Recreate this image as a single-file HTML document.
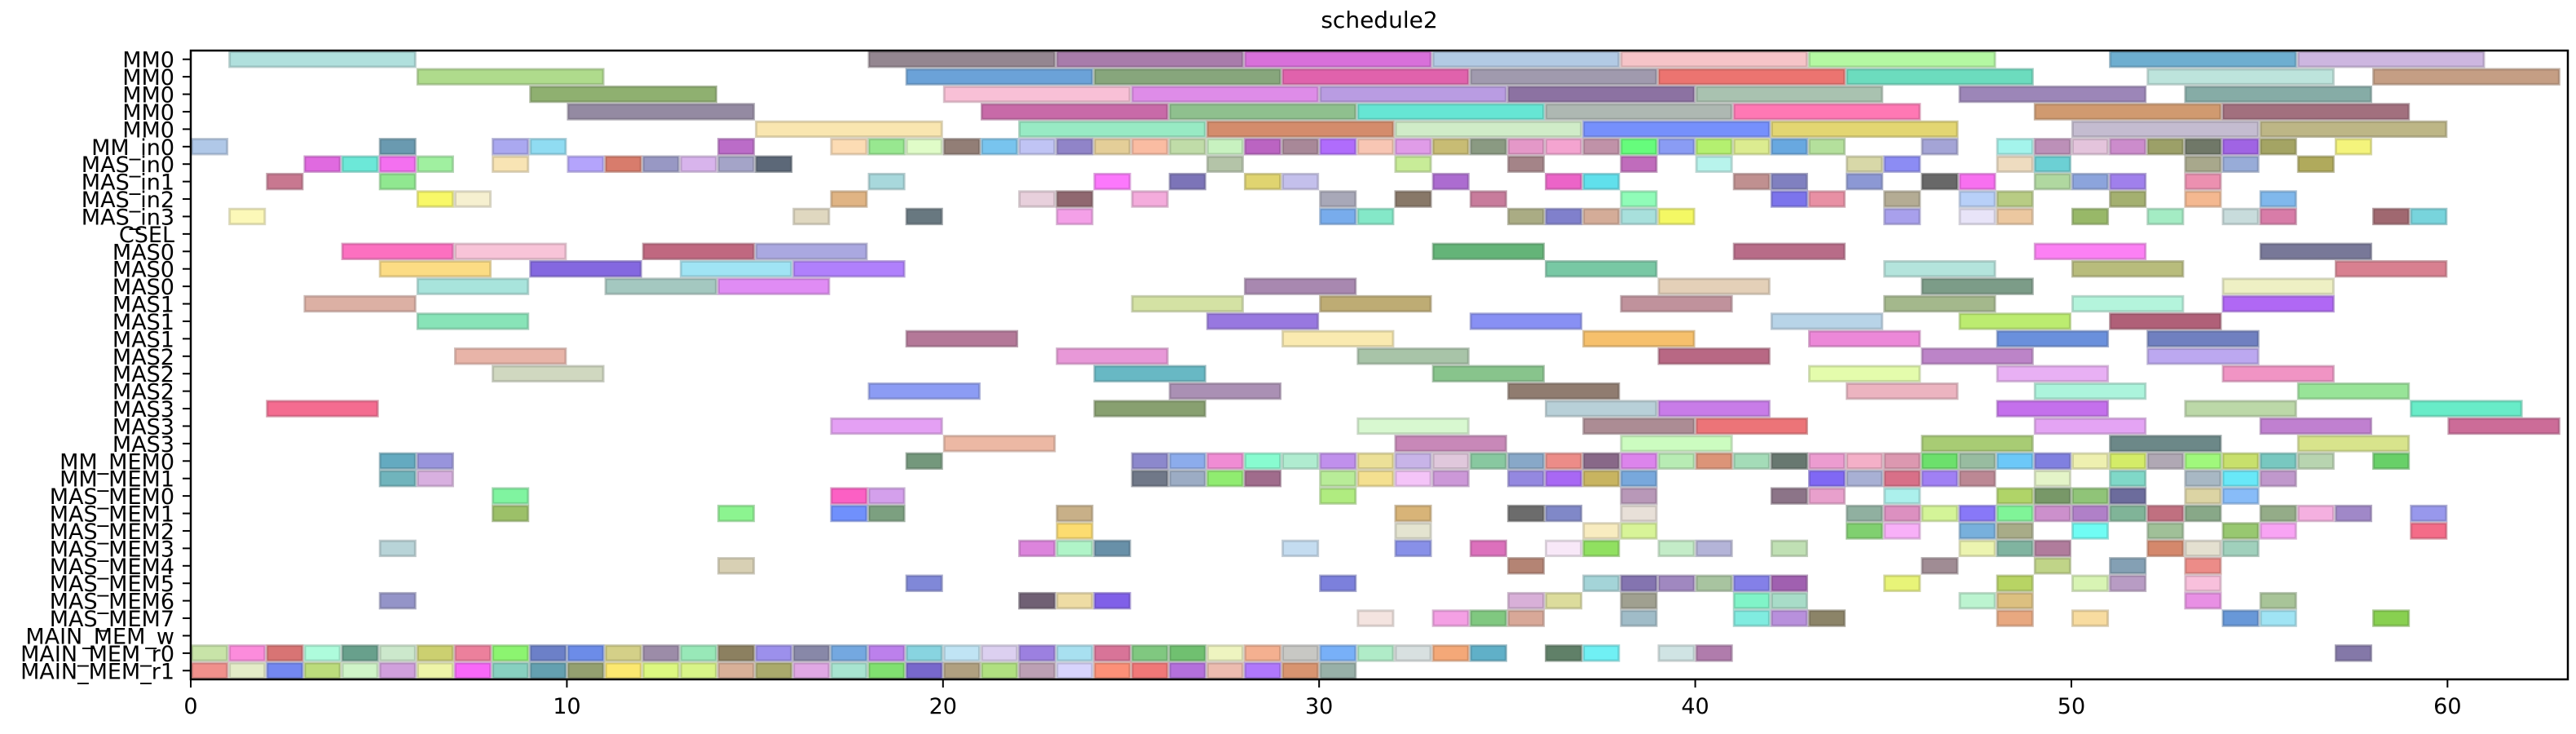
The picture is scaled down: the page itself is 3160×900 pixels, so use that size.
<!DOCTYPE html>
<html><head><meta charset="utf-8"><title>schedule2</title>
<style>
html,body{margin:0;padding:0;background:#fff;}
svg{display:block;font-family:"DejaVu Sans","Liberation Sans",sans-serif;}
</style></head>
<body>
<svg id="chart" width="3160" height="900" viewBox="0 0 3160 900" xmlns="http://www.w3.org/2000/svg">
<text x="1692" y="34" font-size="28" text-anchor="middle">schedule2</text>
<g id="bars"></g>
<g id="yaxis"></g>
<g id="xaxis"></g>
<rect x="234" y="62" width="2916" height="771" fill="none" stroke="#000" stroke-width="2.5"/>
</svg>
<script>
const rowLabels = ["MM0","MM0","MM0","MM0","MM0","MM_in0","MAS_in0","MAS_in1","MAS_in2","MAS_in3","CSEL",
"MAS0","MAS0","MAS0","MAS1","MAS1","MAS1","MAS2","MAS2","MAS2","MAS3","MAS3","MAS3",
"MM_MEM0","MM_MEM1","MAS_MEM0","MAS_MEM1","MAS_MEM2","MAS_MEM3","MAS_MEM4","MAS_MEM5","MAS_MEM6","MAS_MEM7",
"MAIN_MEM_w","MAIN_MEM_r0","MAIN_MEM_r1"];
const xTicks = [0,10,20,30,40,50,60];
const xMax = 63.2;
// each bar: [start, duration, color]
const rowBars = [
[[1,5,"#b0e0dd"],[18,5,"#948690"],[23,5,"#a87cab"],[28,5,"#d870da"],[33,5,"#b2cae4"],[38,5,"#f6c4c8"],[43,5,"#b4f8a2"],[51,5,"#6eaed0"],[56,5,"#cdb6e0"]],
[[6,5,"#afdb8c"],[19,5,"#6ba2d8"],[24,5,"#87a67c"],[29,5,"#e062ac"],[34,5,"#a09aae"],[39,5,"#ec7470"],[44,5,"#6cdcbe"],[52,5,"#bde4dc"],[58,5,"#c59e84"]],
[[9,5,"#8fb070"],[20,5,"#f8c0d6"],[25,5,"#de8ce8"],[30,5,"#b99ce2"],[35,5,"#8c72a2"],[40,5,"#a9c2b0"],[47,5,"#9c86b8"],[53,5,"#86aca6"]],
[[10,5,"#948aa2"],[21,5,"#c86aa8"],[26,5,"#8fc08e"],[31,5,"#66e6d4"],[36,5,"#aeb8b2"],[41,5,"#ff78b4"],[49,5,"#d09a70"],[54,5,"#a2707e"]],
[[15,5,"#f9e6b0"],[22,5,"#98eac4"],[27,5,"#d48c6c"],[32,5,"#d0ecc8"],[37,5,"#7690fc"],[42,5,"#e3d672"],[50,5,"#c4bcd0"],[55,5,"#bdb686"]],
[[0,1,"#b0c8e8"],[5,1,"#6a9ab0"],[8,1,"#aaa8f0"],[9,1,"#90dcf2"],[14,1,"#bb6cc8"],[17,1,"#fcdcb4"],[18,1,"#98e890"],[19,1,"#e0fcc8"],[20,1,"#927e76"],[21,1,"#78c4ee"],[22,1,"#c0c4f4"],[23,1,"#9084c8"],[24,1,"#e4ce98"],[25,1,"#fabca2"],[26,1,"#c0dca8"],[27,1,"#c8f2c0"],[28,1,"#bb64c2"],[29,1,"#a88898"],[30,1,"#b06cfc"],[31,1,"#f8c6b4"],[32,1,"#e09ce8"],[33,1,"#c8bc74"],[34,1,"#8a9a82"],[35,1,"#e498c8"],[36,1,"#f4a4d0"],[37,1,"#c092a8"],[38,1,"#66fc7c"],[39,1,"#8a9cf4"],[40,1,"#b4f070"],[41,1,"#dcec90"],[42,1,"#68a8e0"],[43,1,"#b4e09c"],[46,1,"#a4a4d6"],[48,1,"#a4f4ec"],[49,1,"#bc90b8"],[50,1,"#e4c4dc"],[51,1,"#cc8ccc"],[52,1,"#9ca068"],[53,1,"#707868"],[54,1,"#a064e4"],[55,1,"#a4a464"],[57,1,"#f4f47c"]],
[[3,1,"#e06ae0"],[4,1,"#6ce8d8"],[5,1,"#f470f0"],[6,1,"#a0f0a0"],[8,1,"#f8e4b4"],[10,1,"#b4a4fc"],[11,1,"#d87c6c"],[12,1,"#9898c4"],[13,1,"#d8b4ec"],[14,1,"#a4a4c8"],[15,1,"#5c6878"],[27,1,"#b4c4a8"],[32,1,"#c8ec98"],[35,1,"#a48488"],[38,1,"#c06cbc"],[40,1,"#b8f4ec"],[44,1,"#d8d8a8"],[45,1,"#8c8cf4"],[48,1,"#eedcc0"],[49,1,"#6cd0d4"],[53,1,"#a8a88c"],[54,1,"#98acd8"],[56,1,"#b0aa5c"]],
[[2,1,"#c87890"],[5,1,"#90e890"],[18,1,"#a8d8dc"],[24,1,"#fc78fc"],[26,1,"#7c74b8"],[28,1,"#e0d470"],[29,1,"#c4c0ec"],[33,1,"#ac6cd0"],[36,1,"#ec64c8"],[37,1,"#60e0ec"],[41,1,"#c09090"],[42,1,"#8080c0"],[44,1,"#8c98d4"],[46,1,"#686868"],[47,1,"#f870f0"],[49,1,"#b0d8a0"],[50,1,"#8ca4dc"],[51,1,"#a080ec"],[53,1,"#ec90b0"]],
[[6,1,"#f8f868"],[7,1,"#f6f0d0"],[17,1,"#e0b484"],[22,1,"#e8d0dc"],[23,1,"#906870"],[25,1,"#f4acdc"],[30,1,"#a8a8b8"],[32,1,"#887868"],[34,1,"#c87c9c"],[38,1,"#90fcb8"],[42,1,"#7c74ec"],[43,1,"#e890a4"],[45,1,"#b4ac94"],[47,1,"#b8d0f8"],[48,1,"#b8cc84"],[51,1,"#a4b070"],[53,1,"#f4b890"],[55,1,"#80b8ec"]],
[[1,1,"#fcf8b8"],[16,1,"#e0d8c0"],[19,1,"#687880"],[23,1,"#f4a0e8"],[30,1,"#78acec"],[31,1,"#84e8c8"],[35,1,"#aaac84"],[36,1,"#8080cc"],[37,1,"#d4ac98"],[38,1,"#a8e0dc"],[39,1,"#f4f864"],[45,1,"#a8a0ec"],[47,1,"#e8e4f8"],[48,1,"#ecc8a0"],[50,1,"#98b868"],[52,1,"#a4ecc4"],[54,1,"#c8dcdc"],[55,1,"#d87ca8"],[58,1,"#a06870"],[59,1,"#78d4dc"]],
[],
[[4,3,"#fc70c0"],[7,3,"#f8c4d8"],[12,3,"#c06880"],[15,3,"#aaa8e0"],[33,3,"#64b478"],[41,3,"#b86c88"],[49,3,"#fc80f4"],[55,3,"#787898"]],
[[5,3,"#fcdc84"],[9,3,"#8468e0"],[13,3,"#a0e4f4"],[16,3,"#b080fc"],[36,3,"#78c8a4"],[45,3,"#b4e4dc"],[50,3,"#b8bc7c"],[57,3,"#d88090"]],
[[6,3,"#a8e4dc"],[11,3,"#a4c8c0"],[14,3,"#e08cf4"],[28,3,"#a888b0"],[39,3,"#e4d0b8"],[46,3,"#7c9c88"],[54,3,"#eef0c4"]],
[[3,3,"#dcb0a4"],[25,3,"#d4e2a4"],[30,3,"#beac74"],[38,3,"#c0929c"],[45,3,"#a4b88c"],[50,3,"#b4f4dc"],[54,3,"#b068f4"]],
[[6,3,"#88e4b8"],[27,3,"#9878e0"],[34,3,"#8890f4"],[42,3,"#b8d4e8"],[47,3,"#bcec70"],[51,3,"#b06078"]],
[[19,3,"#b47898"],[29,3,"#faeab0"],[37,3,"#f6c06c"],[43,3,"#ec88d8"],[48,3,"#6a90dc"],[52,3,"#7080c0"]],
[[7,3,"#e8b4a8"],[23,3,"#e898d8"],[31,3,"#a8c4a8"],[39,3,"#b86884"],[46,3,"#bc84c8"],[52,3,"#bca8f0"]],
[[8,3,"#d0d8c0"],[24,3,"#68b8c4"],[33,3,"#88c48c"],[43,3,"#e4fcac"],[48,3,"#e8b0f4"],[54,3,"#f094c4"]],
[[18,3,"#8c9cf4"],[26,3,"#aa90b4"],[35,3,"#907c70"],[44,3,"#ecb4c0"],[49,3,"#acf4dc"],[56,3,"#98e498"]],
[[2,3,"#f46c90"],[24,3,"#88a070"],[36,3,"#b8d0d8"],[39,3,"#c87ce8"],[48,3,"#c470ec"],[53,3,"#bcd8a8"],[59,3,"#68ecc8"]],
[[17,3,"#e4a0f4"],[31,3,"#d8f8d0"],[37,3,"#ac8c94"],[40,3,"#ec7478"],[49,3,"#e4a4f4"],[55,3,"#c080d0"],[60,3,"#cc6c98"]],
[[20,3,"#ecb8a4"],[32,3,"#c888b8"],[38,3,"#ccfcc0"],[46,3,"#a8cc74"],[51,3,"#6c8888"],[56,3,"#d8e48c"]],
[[5,1,"#64aac0"],[6,1,"#9894dc"],[19,1,"#74987c"],[25,1,"#8c88cc"],[26,1,"#8cacec"],[27,1,"#f08cd4"],[28,1,"#88fcd0"],[29,1,"#b0ecd0"],[30,1,"#c090ec"],[31,1,"#ece098"],[32,1,"#c8b4e8"],[33,1,"#e0c8dc"],[34,1,"#88c8a0"],[35,1,"#88a8c8"],[36,1,"#ec8c88"],[37,1,"#886888"],[38,1,"#dc84ec"],[39,1,"#b8ecb4"],[40,1,"#dc9478"],[41,1,"#a4dcb8"],[42,1,"#687870"],[43,1,"#ec9cd0"],[44,1,"#f4b0c8"],[45,1,"#dc98b0"],[46,1,"#6ce06c"],[47,1,"#98bca0"],[48,1,"#6cc8f8"],[49,1,"#8080e0"],[50,1,"#eef0b0"],[51,1,"#d4ec68"],[52,1,"#b0a8b4"],[53,1,"#a0f87c"],[54,1,"#c8e06c"],[55,1,"#78c8c0"],[56,1,"#b8d4b0"],[58,1,"#68d068"]],
[[5,1,"#70b4bc"],[6,1,"#d8b0e0"],[25,1,"#707888"],[26,1,"#9cacc4"],[27,1,"#90ec70"],[28,1,"#a06c8c"],[30,1,"#b8ec98"],[31,1,"#f4e090"],[32,1,"#f4c4f8"],[33,1,"#cc98d8"],[35,1,"#9488e0"],[36,1,"#a868f4"],[37,1,"#c8b460"],[38,1,"#78a8dc"],[43,1,"#8068f4"],[44,1,"#a8b0d4"],[45,1,"#d87088"],[46,1,"#a080f4"],[47,1,"#bc8894"],[49,1,"#e4f4c8"],[51,1,"#80d8c8"],[53,1,"#a8b8c4"],[54,1,"#68e8f8"],[55,1,"#c098cc"]],
[[8,1,"#80f4a0"],[17,1,"#fc60c4"],[18,1,"#d4a0ec"],[30,1,"#b0ec80"],[38,1,"#b898b8"],[42,1,"#8c7488"],[43,1,"#e8a0cc"],[45,1,"#acf0ec"],[48,1,"#b0d468"],[49,1,"#789868"],[50,1,"#90c478"],[51,1,"#6c6c9c"],[53,1,"#dcd4a4"],[54,1,"#88bcf8"]],
[[8,1,"#9cc068"],[14,1,"#8cf490"],[17,1,"#7090fc"],[18,1,"#7ca080"],[23,1,"#c8b088"],[32,1,"#d8b478"],[35,1,"#6c6c6c"],[36,1,"#8088c8"],[38,1,"#e8e0d8"],[44,1,"#90b0a0"],[45,1,"#dc90c0"],[46,1,"#d4f498"],[47,1,"#8878f8"],[48,1,"#80f498"],[49,1,"#cc90cc"],[50,1,"#b080c8"],[51,1,"#80b498"],[52,1,"#c07080"],[53,1,"#88a888"],[55,1,"#94ac88"],[56,1,"#f4b0e0"],[57,1,"#a088c8"],[59,1,"#9898ec"]],
[[23,1,"#fcdc70"],[32,1,"#e4e4d0"],[37,1,"#f8ecc0"],[38,1,"#d8f498"],[44,1,"#80d070"],[45,1,"#f8b0f8"],[47,1,"#78b0dc"],[48,1,"#a8ac88"],[50,1,"#70fcf4"],[52,1,"#a0c098"],[54,1,"#98c870"],[55,1,"#f8a4f4"],[59,1,"#f46c88"]],
[[5,1,"#b8d4d8"],[22,1,"#dc84dc"],[23,1,"#b0f4c8"],[24,1,"#6890a8"],[29,1,"#c4dcf0"],[32,1,"#8890e8"],[34,1,"#dc70bc"],[36,1,"#f8e8f8"],[37,1,"#90e060"],[39,1,"#c4ecc8"],[40,1,"#b4b4d8"],[42,1,"#c0e0b4"],[47,1,"#ecf4b0"],[48,1,"#80b4a0"],[49,1,"#b07c9c"],[52,1,"#d4886c"],[53,1,"#e4e0d0"],[54,1,"#a0d0bc"]],
[[14,1,"#d8d0b4"],[35,1,"#b48474"],[46,1,"#a08c94"],[49,1,"#c0d488"],[51,1,"#84a0b4"],[53,1,"#ec8c88"]],
[[19,1,"#8088d8"],[30,1,"#7c80dc"],[37,1,"#a4d4d8"],[38,1,"#8474b0"],[39,1,"#a088c0"],[40,1,"#a8c4a0"],[41,1,"#8480e8"],[42,1,"#a060b0"],[45,1,"#e8f478"],[48,1,"#b8d464"],[50,1,"#d8f4b4"],[51,1,"#b89cc4"],[53,1,"#f8c0dc"]],
[[5,1,"#9494c8"],[22,1,"#706074"],[23,1,"#eedca4"],[24,1,"#8060e8"],[35,1,"#d8b0d8"],[36,1,"#dcdc9c"],[38,1,"#a0a090"],[41,1,"#80f4c8"],[42,1,"#a8dcc8"],[47,1,"#bcf4d0"],[48,1,"#dcc080"],[53,1,"#e890e4"],[55,1,"#a8c498"]],
[[31,1,"#f4e4e0"],[33,1,"#f4a0e4"],[34,1,"#80c880"],[35,1,"#d8a898"],[38,1,"#a0bcc8"],[41,1,"#80ece0"],[42,1,"#b890dc"],[43,1,"#8c8468"],[48,1,"#e8a880"],[50,1,"#f8dca0"],[54,1,"#6898d8"],[55,1,"#a0e4f4"],[58,1,"#88d050"]],
[],
[[0,1,"#c8e4a8"],[1,1,"#fc8cdc"],[2,1,"#d87474"],[3,1,"#aefcdc"],[4,1,"#68a08c"],[5,1,"#cce8cc"],[6,1,"#ccd070"],[7,1,"#ec809c"],[8,1,"#8cf470"],[9,1,"#6c80c8"],[10,1,"#6c8ce8"],[11,1,"#d4d088"],[12,1,"#9c8ca8"],[13,1,"#98e8b8"],[14,1,"#8c8060"],[15,1,"#9c90ec"],[16,1,"#8888a8"],[17,1,"#74a8e0"],[18,1,"#bc80ec"],[19,1,"#88d4e0"],[20,1,"#c0e4f4"],[21,1,"#dcd0f0"],[22,1,"#9c80e0"],[23,1,"#a8e0f0"],[24,1,"#d87498"],[25,1,"#80c880"],[26,1,"#70c070"],[27,1,"#eef4c0"],[28,1,"#f4b090"],[29,1,"#c8c8c4"],[30,1,"#78b0f8"],[31,1,"#b0ecc8"],[32,1,"#d8e0e0"],[33,1,"#f4a878"],[34,1,"#60b0c8"],[36,1,"#608068"],[37,1,"#70f0f4"],[39,1,"#d0e4e4"],[40,1,"#b07cac"],[57,1,"#8478a8"]],
[[0,1,"#f0908c"],[1,1,"#e4ecc8"],[2,1,"#7488f0"],[3,1,"#bcdc7c"],[4,1,"#d0f4c8"],[5,1,"#d0a0dc"],[6,1,"#eef4a8"],[7,1,"#f868f8"],[8,1,"#88d0c0"],[9,1,"#64a0b0"],[10,1,"#94a070"],[11,1,"#fce870"],[12,1,"#dcf880"],[13,1,"#d8f488"],[14,1,"#d8b098"],[15,1,"#aaaa6c"],[16,1,"#e0a8e4"],[17,1,"#a8e4d0"],[18,1,"#80e070"],[19,1,"#7868cc"],[20,1,"#b0a080"],[21,1,"#b0e080"],[22,1,"#bca0b4"],[23,1,"#d8d4fc"],[24,1,"#fc9078"],[25,1,"#f07878"],[26,1,"#b470dc"],[27,1,"#ecbcb0"],[28,1,"#b078fc"],[29,1,"#d89470"],[30,1,"#98b0a8"]]
];

const X0 = 234, XW = 2916, Y0 = 62, YH = 771;
const nRows = rowLabels.length;
function xs(u){ return X0 + u / xMax * XW; }
function ys(r){ return Y0 + (r + 0.5) / nRows * YH; }
const rowH = YH / nRows;
const NS = "http://www.w3.org/2000/svg";
function darker(hex){
  const n = parseInt(hex.slice(1),16);
  const r = Math.round(((n>>16)&255)*0.75), g = Math.round(((n>>8)&255)*0.75), b = Math.round((n&255)*0.75);
  return "rgb("+r+","+g+","+b+")";
}
const gb = document.getElementById("bars");
rowBars.forEach(function(list, ri){
  list.forEach(function(bar, bi){
    const x1 = xs(bar[0]), x2 = Math.min(xs(bar[0]+bar[1]), X0+XW);
    const rc = document.createElementNS(NS,"rect");
    rc.setAttribute("x", x1+1.5);
    rc.setAttribute("y", ys(ri)-rowH/2+1.5);
    rc.setAttribute("width", Math.max(0, x2-x1-3));
    rc.setAttribute("height", rowH-3);
    rc.setAttribute("fill", bar[2]);
    rc.setAttribute("stroke", darker(bar[2]));
    rc.setAttribute("stroke-opacity", "0.55");
    rc.setAttribute("stroke-width", "3");
    
    
    gb.appendChild(rc);
  });
});
const gy = document.getElementById("yaxis");
rowLabels.forEach(function(lab, i){
  const y = ys(i);
  const t = document.createElementNS(NS,"line");
  t.setAttribute("x1", X0-10); t.setAttribute("x2", X0);
  t.setAttribute("y1", y); t.setAttribute("y2", y);
  t.setAttribute("stroke","#000"); t.setAttribute("stroke-width","2");
  
  
  gy.appendChild(t);
  const tx = document.createElementNS(NS,"text");
  tx.setAttribute("x", X0-20); tx.setAttribute("y", y+10);
  tx.setAttribute("text-anchor","end"); tx.setAttribute("font-size","27");
  tx.textContent = lab;
  
  
  gy.appendChild(tx);
});
const gx = document.getElementById("xaxis");
xTicks.forEach(function(v){
  const x = xs(v);
  const t = document.createElementNS(NS,"line");
  t.setAttribute("x1", x); t.setAttribute("x2", x);
  t.setAttribute("y1", Y0+YH); t.setAttribute("y2", Y0+YH+10);
  t.setAttribute("stroke","#000"); t.setAttribute("stroke-width","2");
  
  
  gx.appendChild(t);
  const tx = document.createElementNS(NS,"text");
  tx.setAttribute("x", x); tx.setAttribute("y", Y0+YH+42);
  tx.setAttribute("text-anchor","middle"); tx.setAttribute("font-size","27");
  tx.textContent = String(v);
  
  
  gx.appendChild(tx);
});
</script>
</body></html>
